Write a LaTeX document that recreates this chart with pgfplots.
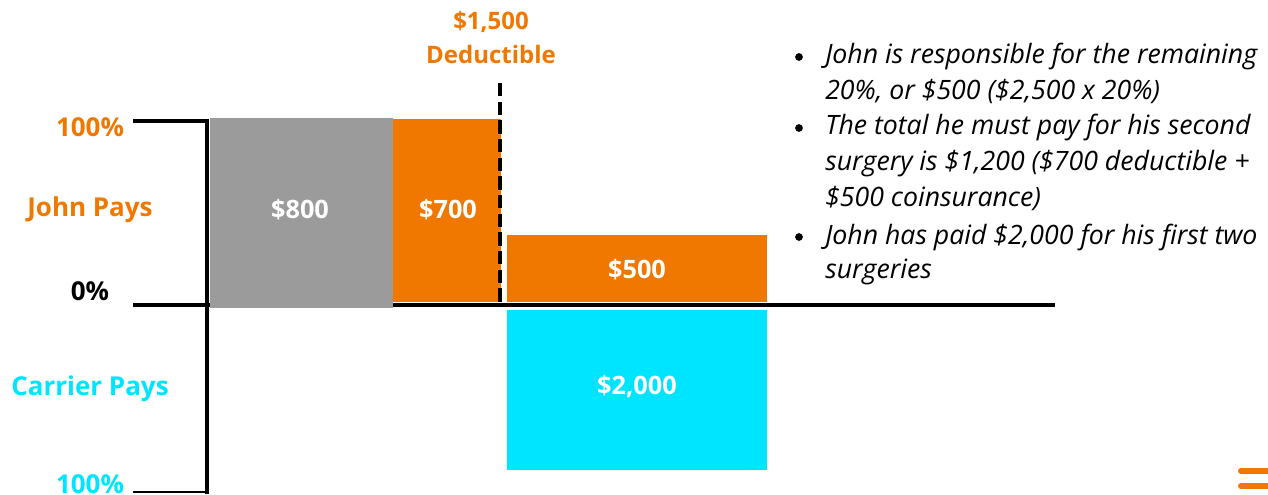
\documentclass[border=0pt]{standalone}
\usepackage{pgfplots}
\pgfplotsset{compat=1.18}
\usepackage{fontspec}
\setmainfont{Open Sans}
\definecolor{cOrange}{HTML}{F07800}
\definecolor{cGray}{HTML}{9B9B9B}
\definecolor{cCyan}{HTML}{00E5FF}
\begin{document}
\begin{tikzpicture}
\begin{axis}[name=ax,
  scale only axis, width=951pt, height=370.5pt,
  xmin=0, xmax=1268, ymin=0, ymax=494, y dir=reverse,
  hide axis, clip=false]
% axis lines
\addplot[black, line width=3pt, forget plot] coordinates {(133,305) (1055,305)};
\addplot[black, line width=3pt, forget plot] coordinates {(207,119) (207,494)};
\addplot[black, line width=3pt, forget plot] coordinates {(133,121) (207,121)};
\addplot[black, line width=1.5pt, forget plot] coordinates {(133,492) (207,492)};
% bars
\addplot[fill=cGray, draw=none] coordinates {(210,118) (393,118) (393,308) (210,308)} -- cycle;
\addplot[fill=cOrange, draw=none] coordinates {(393,119) (501,119) (501,302) (393,302)} -- cycle;
\addplot[fill=cOrange, draw=none] coordinates {(507,235) (767,235) (767,302) (507,302)} -- cycle;
\addplot[fill=cCyan, draw=none] coordinates {(507,310) (767,310) (767,470) (507,470)} -- cycle;
% deductible line
\addplot[black, line width=3pt, dash pattern=on 10pt off 4pt, forget plot] coordinates {(500,83) (500,305)};
% bar labels
\begin{scope}[every node/.style={font=\bfseries\fontsize{19}{21}\selectfont, text=white}]
\node at (axis cs:300,210) {\$800};
\node at (axis cs:448,210) {\$700};
\node at (axis cs:637,270) {\$500};
\node at (axis cs:637,387) {\$2,000};
\end{scope}
% side labels
\begin{scope}[every node/.style={font=\bfseries\fontsize{19.5}{21}\selectfont}]
\node[text=cOrange] at (axis cs:90,127) {100\%};
\node[text=cOrange] at (axis cs:90,210) {John Pays};
\node[text=black] at (axis cs:90,291) {0\%};
\node[text=cCyan] at (axis cs:90,389) {Carrier Pays};
\node[text=cCyan] at (axis cs:90,484) {100\%};
\end{scope}
\begin{scope}[every node/.style={font=\bfseries\fontsize{18}{20}\selectfont}]
\node[text=cOrange] at (axis cs:491,22) {\$1,500};
\node[text=cOrange] at (axis cs:491,55) {Deductible};
\end{scope}
% bullets
\begin{scope}[every node/.style={font=\itshape\fontsize{20}{22}\selectfont, anchor=west, inner sep=0pt}]
\node at (axis cs:825,57) {John is responsible for the remaining};
\node at (axis cs:825,92) {20\%, or \$500 (\$2,500 x 20\%)};
\node at (axis cs:825,128) {The total he must pay for his second};
\node at (axis cs:825,164) {surgery is \$1,200 (\$700 deductible +};
\node at (axis cs:825,199) {\$500 coinsurance)};
\node at (axis cs:825,237) {John has paid \$2,000 for his first two};
\node at (axis cs:825,272) {surgeries};
\end{scope}
\begin{scope}[every node/.style={circle, fill=black, inner sep=0pt, minimum size=5.8pt}]
\node at (axis cs:799,57) {};
\node at (axis cs:799,128) {};
\node at (axis cs:799,237) {};
\end{scope}
% icon
\draw[cOrange, line width=4.5pt, line cap=round] (axis cs:1241,471) -- (axis cs:1268,471);
\draw[cOrange, line width=4.5pt, line cap=round] (axis cs:1241,486) -- (axis cs:1268,486);
\end{axis}
\pgfresetboundingbox
\path (ax.south west) rectangle (ax.north east);
\end{tikzpicture}
\end{document}
